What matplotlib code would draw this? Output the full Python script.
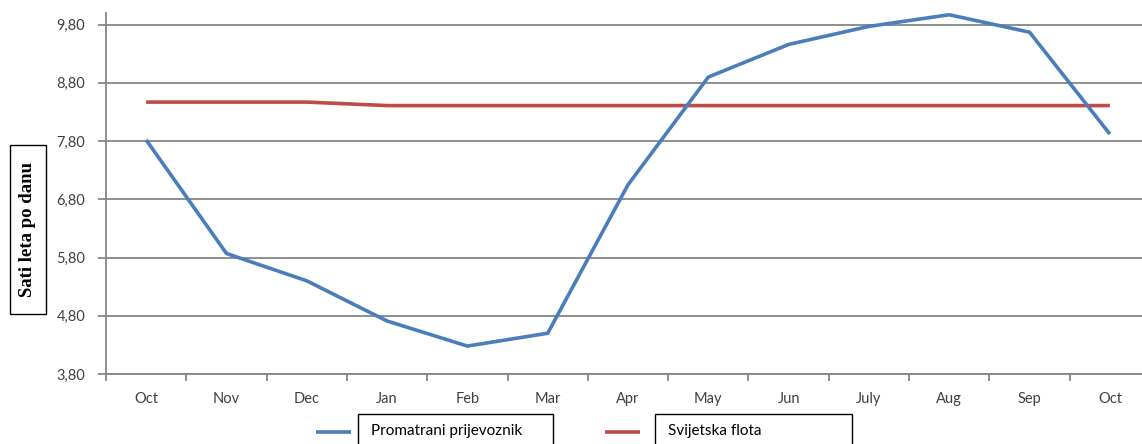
import matplotlib
matplotlib.use("Agg")
import matplotlib.pyplot as plt
from matplotlib.lines import Line2D
from matplotlib.patches import Rectangle
from matplotlib.ticker import FuncFormatter

# podaci očitani sa slike
mjeseci = ["Oct", "Nov", "Dec", "Jan", "Feb", "Mar", "Apr",
           "May", "Jun", "July", "Aug", "Sep", "Oct"]
promatrani = [7.82, 5.87, 5.40, 4.71, 4.28, 4.50, 7.05,
              8.90, 9.46, 9.77, 9.97, 9.67, 7.92]
svjetska = [8.47, 8.47, 8.47, 8.41, 8.41, 8.41, 8.41,
            8.41, 8.41, 8.41, 8.41, 8.41, 8.41]
y_ticks = [3.8, 4.8, 5.8, 6.8, 7.8, 8.8, 9.8]

PLAVA = "#4A7EBB"
CRVENA = "#BE4B48"
SIVA = "#868686"
W, H = 1142, 444

plt.rcParams["font.family"] = ["Lato", "DejaVu Sans"]

fig = plt.figure(figsize=(W / 100, H / 100), dpi=100)
ax = fig.add_axes([106 / W, (H - 374) / H, 1 - 106 / W, (374 - 13) / H])

x = list(range(len(mjeseci)))
ax.plot(x, svjetska, color=CRVENA, linewidth=2.6, solid_capstyle="butt", zorder=3)
ax.plot(x, promatrani, color=PLAVA, linewidth=2.6, solid_capstyle="butt", zorder=4)

ax.set_xlim(-0.5, 12.4)
ax.set_ylim(3.8, 10.0)
ax.set_yticks(y_ticks)
ax.yaxis.set_major_formatter(FuncFormatter(lambda v, p: f"{v:.2f}".replace(".", ",")))
ax.set_xticks(x)
ax.set_xticklabels(mjeseci)
ax.set_xticks([i - 0.5 for i in x], minor=True)

ax.grid(axis="y", color=SIVA, linewidth=1.3)
ax.set_axisbelow(True)
for s in ("top", "right"):
    ax.spines[s].set_visible(False)
for s in ("left", "bottom"):
    ax.spines[s].set_color(SIVA)
    ax.spines[s].set_linewidth(1.3)

ax.tick_params(axis="y", colors=SIVA, labelcolor="#404040", labelsize=10.5,
               length=6, width=1.3, pad=9)
ax.tick_params(axis="x", which="major", length=0, labelcolor="#404040",
               labelsize=10.5, pad=13)
ax.tick_params(axis="x", which="minor", length=5, width=1.3, color=SIVA)

# naslov osi y u okviru
fig.add_artist(Rectangle((10 / W, (H - 314) / H), 36 / W, 169 / H,
                         transform=fig.transFigure, fill=False,
                         edgecolor="black", linewidth=1.0))
fig.text(28 / W, (H - 229.5) / H, "Sati leta po danu", rotation=90,
         ha="center", va="center", fontsize=13.5, fontweight="bold",
         family=["Liberation Serif", "DejaVu Serif"])

# legenda
legenda = [("Promatrani prijevoznik", PLAVA, 316, 351, 358, 553),
           ("Svijetska flota", CRVENA, 605, 640, 655, 852)]
for tekst, boja, l0, l1, b0, b1 in legenda:
    fig.add_artist(Line2D([l0 / W, l1 / W], [(H - 432) / H] * 2,
                          transform=fig.transFigure, color=boja,
                          linewidth=2.6, solid_capstyle="butt"))
    fig.add_artist(Rectangle((b0 / W, -0.01), (b1 - b0) / W, (H - 414) / H + 0.01,
                             transform=fig.transFigure, fill=False,
                             edgecolor="black", linewidth=1.0))
    fig.text((b0 + 13) / W, (H - 431) / H, tekst, ha="left", va="center",
             fontsize=11, color="black")

fig.savefig("out.png", dpi=100)
